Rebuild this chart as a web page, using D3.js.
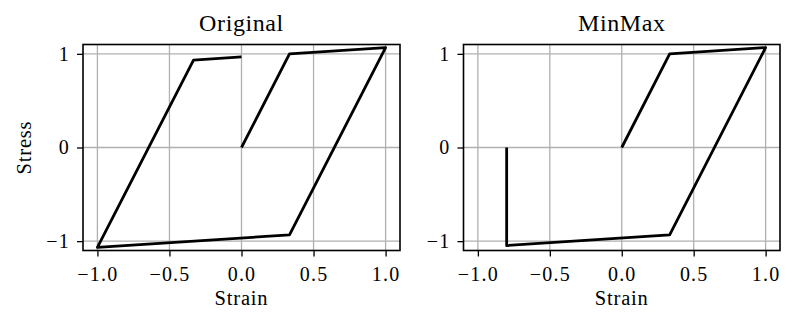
<!DOCTYPE html>
<html lang="en">
<head>
<meta charset="UTF-8">
<title>Original vs MinMax</title>
<script src="https://d3js.org/d3.v7.min.js"></script>
<style>
  body { margin: 0; background: #fff; }
  svg text { font-family: "Liberation Serif", "DejaVu Serif", serif; fill: #000; }
</style>
</head>
<body>
<div id="chart"></div>
<script>
    // Strain / stress paths
    const originalStrain = [0, 0.333, 1.0, 0.333, -1.0, -0.333, 0.0];
    const originalStress = [0, 1.0, 1.067, -0.933, -1.067, 0.933, 0.967];

    const minmaxStrain = [0, 0.333, 1.0, 0.333, -0.8, -0.8];
    const minmaxStress = [0, 1.0, 1.067, -0.933, -1.047, 0.0];

    const titles = ["Original", "MinMax"];
    const xTicks = [-1.0, -0.5, 0.0, 0.5, 1.0];
    const yTicks = [-1, 0, 1];

    const width = 803, height = 326;
    const svg = d3.select("#chart").append("svg")
        .attr("width", width)
        .attr("height", height);

    const panels = [
        { left: 83, right: 400, strain: originalStrain, stress: originalStress, ylabel: true },
        { left: 463.5, right: 780, strain: minmaxStrain, stress: minmaxStress, ylabel: false }
    ];
    const plotTop = 44.5, plotBottom = 250.5;

    const minus = s => s.replace("-", "\u2212");

    panels.forEach((p, i) => {
        const x = d3.scaleLinear().domain([-1.1, 1.1]).range([p.left, p.right]);
        const y = d3.scaleLinear().domain([-1.1, 1.1]).range([plotBottom, plotTop]);
        const g = svg.append("g");

        // grid
        g.selectAll(".gx").data(xTicks).enter().append("line")
            .attr("x1", d => x(d)).attr("x2", d => x(d))
            .attr("y1", plotTop).attr("y2", plotBottom)
            .attr("stroke", "#b0b0b0").attr("stroke-width", 1.3);
        g.selectAll(".gy").data(yTicks).enter().append("line")
            .attr("y1", d => y(d)).attr("y2", d => y(d))
            .attr("x1", p.left).attr("x2", p.right)
            .attr("stroke", "#b0b0b0").attr("stroke-width", 1.3);

        // the path
        const pts = p.strain.map((s, k) => [s, p.stress[k]]);
        g.append("path")
            .datum(pts)
            .attr("d", d3.line().x(d => x(d[0])).y(d => y(d[1])))
            .attr("fill", "none")
            .attr("stroke", "#000")
            .attr("stroke-width", 2.8)
            .attr("stroke-linejoin", "round");

        // frame
        g.append("rect")
            .attr("x", p.left).attr("y", plotTop)
            .attr("width", p.right - p.left).attr("height", plotBottom - plotTop)
            .attr("fill", "none").attr("stroke", "#000").attr("stroke-width", 1.6);

        // axes
        const xAxis = d3.axisBottom(x).tickValues(xTicks).tickSize(6).tickPadding(10)
            .tickFormat(d => minus(d3.format(".1f")(d)));
        const gx = g.append("g").attr("transform", `translate(0,${plotBottom})`).call(xAxis);
        const yAxis = d3.axisLeft(y).tickValues(yTicks).tickSize(6).tickPadding(7)
            .tickFormat(d => minus(d3.format("d")(d)));
        const gy = g.append("g").attr("transform", `translate(${p.left},0)`).call(yAxis);
        [gx, gy].forEach(a => {
            a.select(".domain").remove();
            a.selectAll(".tick line").attr("stroke", "#000").attr("stroke-width", 1.3);
            a.selectAll("text")
                .style("font-size", "20px")
                .style("letter-spacing", "1.2px")
                .style("font-family", '"Liberation Serif", serif');
        });

        // title
        g.append("text")
            .attr("x", (p.left + p.right) / 2).attr("y", 31)
            .attr("text-anchor", "middle")
            .style("font-size", "24px")
            .style("letter-spacing", "0.6px")
            .text(titles[i]);

        // x label
        g.append("text")
            .attr("x", (p.left + p.right) / 2).attr("y", 305)
            .attr("text-anchor", "middle")
            .style("font-size", "20.5px")
            .style("letter-spacing", "0.8px")
            .text("Strain");

        if (p.ylabel) {
            g.append("text")
                .attr("transform", `translate(31,${y(0)}) rotate(-90)`)
                .attr("text-anchor", "middle")
                .style("font-size", "20.5px")
                .style("letter-spacing", "0.8px")
                .text("Stress");
        }
    });
</script>
</body>
</html>
